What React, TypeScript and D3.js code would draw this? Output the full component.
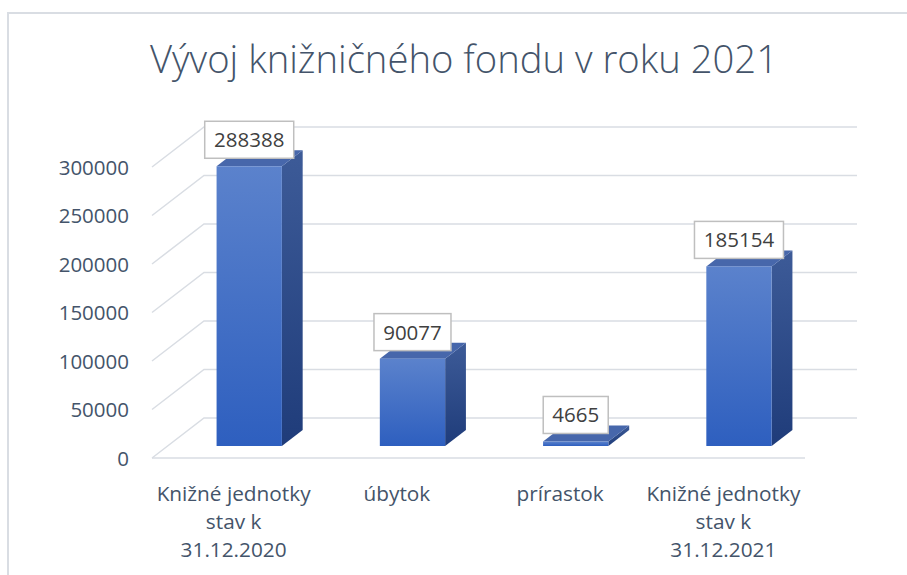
import * as d3 from "d3";

// data
const categories: string[][] = [
  ["Knižné jednotky", "stav k", "31.12.2020"],
  ["úbytok"],
  ["prírastok"],
  ["Knižné jednotky", "stav k", "31.12.2021"],
];
const values: number[] = [288388, 90077, 4665, 185154];
const yTicks: number[] = [0, 50000, 100000, 150000, 200000, 250000, 300000];
const title = "Vývoj knižničného fondu v roku 2021";

const W = 907;
const H = 575;
const FONT = "'Open Sans', 'Noto Sans', sans-serif";
const TEXT = "#44546a";
const GRID = "#d9dde3";

// 3d floor depth (full depth of the plot box)
const depthX = 52;
const depthY = -40;
// bar sits between these depth fractions
const barFront = 0.3;
const barBack = 0.7;

export default function App() {
  const x = d3
    .scaleBand<number>()
    .domain(d3.range(values.length))
    .range([152, 805])
    .paddingInner(0)
    .paddingOuter(0);

  const y = d3.scaleLinear().domain([0, 300000]).range([458, 167]);

  const bandW = x.bandwidth();
  const barW = bandW / 2.5; // gap width 150%

  const bars = values.map((v, i) => {
    const cx = (x(i) as number) + bandW / 2;
    const fx = cx - barW / 2 + depthX * barFront;
    const fy0 = y(0) + depthY * barFront;
    const fy1 = y(v) + depthY * barFront;
    const dx = depthX * (barBack - barFront);
    const dy = depthY * (barBack - barFront);
    return { v, i, fx, fy0, fy1, dx, dy };
  });

  return (
    <svg
      width={W}
      height={H}
      style={{ position: "absolute", left: 0, top: 0, background: "#fff" }}
    >
      <defs>
        <linearGradient id="front" x1="0" y1="0" x2="0" y2="1">
          <stop offset="0" stopColor="#5b82cc" />
          <stop offset="1" stopColor="#2e5fbf" />
        </linearGradient>
        <linearGradient id="side" x1="0" y1="0" x2="0" y2="1">
          <stop offset="0" stopColor="#3d5b98" />
          <stop offset="1" stopColor="#1f3c7a" />
        </linearGradient>
      </defs>

      {/* chart frame */}
      <path d={`M8,${H} V13 H${W}`} fill="none" stroke={GRID} strokeWidth={2} />

      <text
        x={464}
        y={73}
        textAnchor="middle"
        fontFamily={FONT}
        fontWeight={300}
        fontSize={38}
        fill={TEXT}
        textLength={628}
        lengthAdjust="spacingAndGlyphs"
      >
        {title}
      </text>

      {/* gridlines: side wall diagonals + back wall */}
      <g stroke={GRID} strokeWidth={1.5} fill="none">
        {yTicks.map((t) => (
          <path
            key={t}
            d={`M152,${y(t)} L${152 + depthX},${y(t) + depthY} H${805 + depthX}`}
          />
        ))}
        <path d={`M152,${y(0)} H805`} />
      </g>

      {/* y tick labels */}
      <g fontFamily={FONT} fontSize={20.5} fill={TEXT} textAnchor="end">
        {yTicks.map((t) => (
          <text key={t} x={129} y={y(t) + 7.5}>
            {t}
          </text>
        ))}
      </g>

      {/* bars */}
      {bars.map((b) => (
        <g key={b.i}>
          <path
            d={`M${b.fx + barW},${b.fy0} l${b.dx},${b.dy} V${b.fy1 + b.dy} l${-b.dx},${-b.dy} Z`}
            fill="url(#side)"
          />
          <path
            d={`M${b.fx},${b.fy1} l${b.dx},${b.dy} h${barW} l${-b.dx},${-b.dy} Z`}
            fill="#4767ab"
          />
          <rect
            x={b.fx}
            y={b.fy1}
            width={barW}
            height={Math.max(b.fy0 - b.fy1, 0)}
            fill="url(#front)"
          />
        </g>
      ))}

      {/* data labels */}
      {bars.map((b) => {
        const label = String(b.v);
        const bw = label.length * 12 + 17;
        const bh = 37;
        const by = b.fy1 - 8 - bh;
        const lx = b.fx + barW / 2;
        return (
          <g key={b.i}>
            <rect
              x={lx - bw / 2}
              y={by}
              width={bw}
              height={bh}
              fill="#fff"
              stroke="#bfbfbf"
              strokeWidth={1.5}
            />
            <text
              x={lx}
              y={by + bh / 2 + 7.5}
              textAnchor="middle"
              fontFamily={FONT}
              fontSize={20.5}
              fill="#404040"
            >
              {label}
            </text>
          </g>
        );
      })}

      {/* category labels */}
      <g fontFamily={FONT} fontSize={20.8} fill={TEXT} textAnchor="middle">
        {categories.map((lines, i) => {
          const cx = (x(i) as number) + bandW / 2;
          return (
            <text key={i} x={cx} y={501}>
              {lines.map((l, j) => (
                <tspan key={j} x={cx} dy={j === 0 ? 0 : 28}>
                  {l}
                </tspan>
              ))}
            </text>
          );
        })}
      </g>
    </svg>
  );
}
